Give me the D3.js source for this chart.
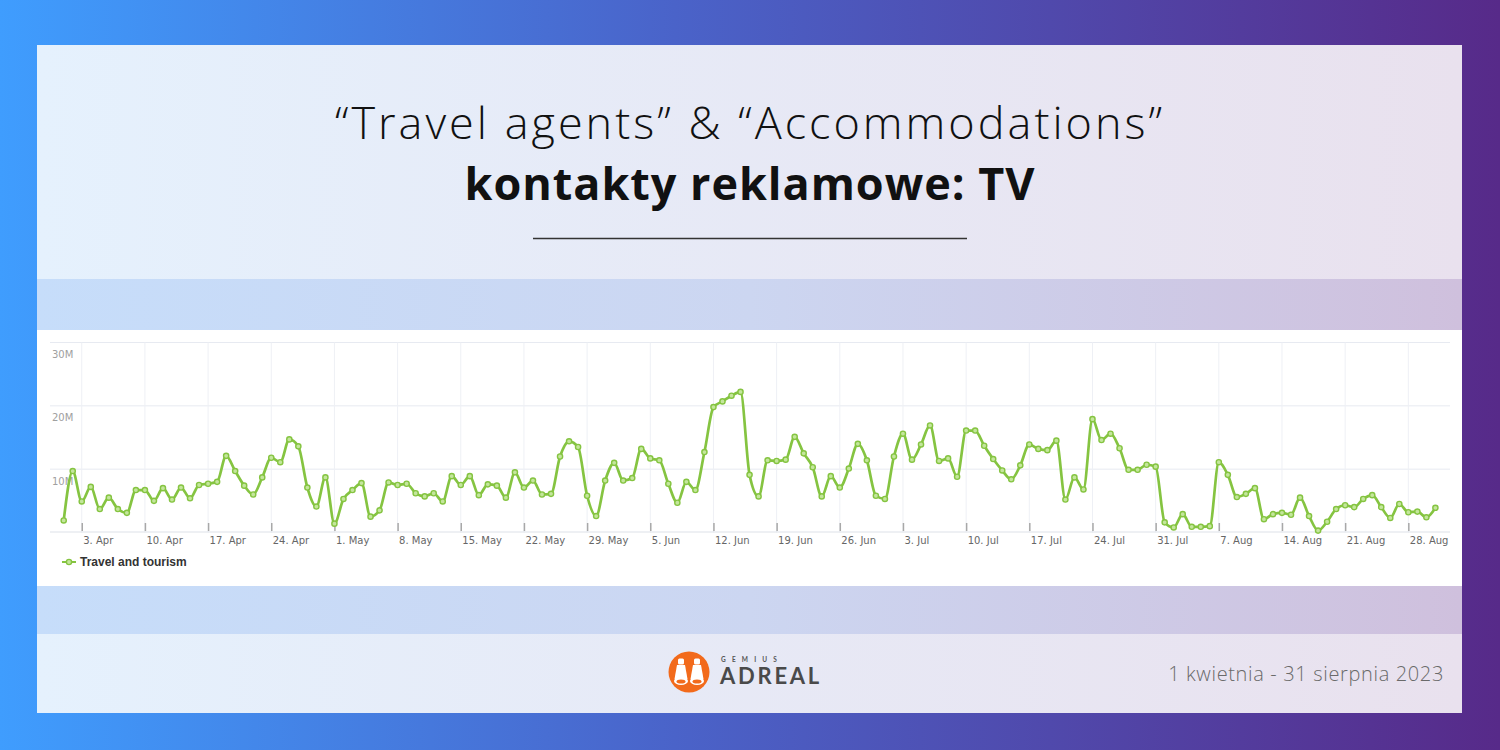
<!DOCTYPE html>
<html><head><meta charset="utf-8">
<script src="https://cdn.jsdelivr.net/npm/d3@7"></script>
<style>html,body{margin:0;padding:0;overflow:hidden;background:#fff}svg{display:block}</style>
</head><body><svg id="c" width="1500" height="750"></svg>
<script>
// ---------- DATA ----------
const startDate = "2023-04-01";
const aprValues = [1.9,9.7,4.9,7.2,3.7,5.5,3.7,3.1,6.7,6.7,5.0,7.0,5.2,7.1,5.4,7.5,7.7,8.0,12.1,9.7,7.4,6.0,8.7,11.8,11.1,14.7,13.6,7.1,4.1,8.7];
const mayValues = [1.4,5.3,6.7,7.8,2.5,3.5,7.9,7.5,7.7,6.2,5.7,6.2,4.9,8.9,7.5,8.9,5.9,7.6,7.4,5.5,9.5,7.1,8.2,6.0,6.1,12.0,14.4,13.5,5.8,2.6,8.2];
const junValues = [11.0,8.2,8.6,13.2,11.7,11.4,7.7,4.7,8.0,6.7,12.7,19.8,20.7,21.6,22.2,9.1,5.7,11.4,11.3,11.5,15.1,12.5,10.3,5.7,8.9,7.1,10.1,14.0,11.4,5.8];
const julValues = [5.3,12.0,15.6,11.5,13.9,16.9,11.3,11.7,8.8,16.1,16.1,13.7,11.6,9.8,8.4,10.6,13.9,13.2,13.0,14.5,5.2,8.7,6.8,17.9,14.6,15.6,13.3,9.9,9.9,10.7,10.4];
const augValues = [1.6,0.8,2.9,0.9,0.9,1.0,11.1,9.1,5.6,6.1,7.0,2.1,2.9,3.1,2.8,5.5,2.6,0.3,1.7,3.7,4.3,4.0,5.3,5.9,4.0,2.3,4.5,3.2,3.3,2.4,3.9];
const tickLabels = ["3. Apr","10. Apr","17. Apr","24. Apr","1. May","8. May","15. May","22. May","29. May","5. Jun","12. Jun","19. Jun","26. Jun","3. Jul","10. Jul","17. Jul","24. Jul","31. Jul","7. Aug","14. Aug","21. Aug","28. Aug"];
const yTickValues = [10,20,30];
const yTickLabels = ["10M","20M","30M"];
const seriesName = "Travel and tourism";
const titleLine1 = "\u201CTravel agents\u201D & \u201CAccommodations\u201D";
const titleLine2 = "kontakty reklamowe: TV";
const periodLabel = "1 kwietnia - 31 sierpnia 2023";

// ---------- BUILD ----------
const values = [].concat(aprValues, mayValues, junValues, julValues, augValues);
const parseDay = d3.utcParse("%Y-%m-%d");
const start = parseDay(startDate);
const data = values.map((v,i)=>({date: d3.utcDay.offset(start, i), value: v}));
const parseTick = d3.utcParse("%d. %b %Y");
const tickDates = tickLabels.map(l=>parseTick(l+" 2023"));

const svg = d3.select("#c");
const defs = svg.append("defs");
function grad(id, stops){
  const g = defs.append("linearGradient").attr("id",id).attr("x1","0").attr("x2","1").attr("y1","0").attr("y2","0");
  stops.forEach(s=>g.append("stop").attr("offset",s[0]).attr("stop-color",s[1]));
}
grad("bg", [[0,"#3f9dfe"],[0.45,"#4a63c9"],[1,"#572a89"]]);
grad("panel", [[0,"#e5f1fd"],[1,"#e9e1ee"]]);
grad("band", [[0,"#c6ddfa"],[0.5,"#ccd6f1"],[1,"#cfc0dd"]]);

svg.append("rect").attr("width",1500).attr("height",750).attr("fill","url(#bg)");
svg.append("rect").attr("x",37).attr("y",45).attr("width",1425).attr("height",668).attr("fill","url(#panel)");
svg.append("rect").attr("x",37).attr("y",279).attr("width",1425).attr("height",51).attr("fill","url(#band)");
svg.append("rect").attr("x",37).attr("y",586).attr("width",1425).attr("height",48).attr("fill","url(#band)");
svg.append("rect").attr("x",37).attr("y",330).attr("width",1425).attr("height",256).attr("fill","#ffffff");

// fit text to a target width with letter-spacing
function fitWidth(sel, target){
  const node = sel.node();
  const len = node.getComputedTextLength();
  const n = sel.text().length;
  const ls = (target - len) / n;
  sel.style("letter-spacing", ls.toFixed(2) + "px");
}

// Title
const t1 = svg.append("text").attr("x",750).attr("y",139).attr("text-anchor","middle")
  .style("font-family","'Open Sans', Lato, sans-serif").style("font-weight",300).style("font-size","45px").attr("fill","#111")
  .text(titleLine1);
fitWidth(t1, 830);
const t2 = svg.append("text").attr("x",750).attr("y",200).attr("text-anchor","middle")
  .style("font-family","'Open Sans', Lato, sans-serif").style("font-weight",700).style("font-size","45px").attr("fill","#111")
  .text(titleLine2);
fitWidth(t2, 571);
svg.append("line").attr("x1",533).attr("x2",967).attr("y1",238.5).attr("y2",238.5)
  .attr("stroke","#333").attr("stroke-width",1.5);

// Scales
const x = d3.scaleUtc().domain([data[0].date, data[data.length-1].date]).range([63.7, 1435.4]);
const y = d3.scaleLinear().domain([0,30]).range([532.5, 342.5]);
const plotLeft = 50, plotRight = 1450;

// Grid
const grid = svg.append("g");
grid.selectAll(".hg").data(yTickValues).join("line")
  .attr("x1",plotLeft).attr("x2",plotRight).attr("y1",d=>y(d)).attr("y2",d=>y(d))
  .attr("stroke","#e7eaf1").attr("stroke-width",1);
grid.selectAll(".vg").data(tickDates).join("line")
  .attr("x1",d=>x(d)).attr("x2",d=>x(d)).attr("y1",y(30)).attr("y2",y(0))
  .attr("stroke","#eef0f5").attr("stroke-width",1);

// Y labels
svg.append("g").selectAll("text").data(yTickValues).join("text")
  .attr("x",52).attr("y",d=>y(d)+15.5)
  .style("font-family","DejaVu Sans").style("font-size","10px").attr("fill","#a0a0a0")
  .text((d,i)=>yTickLabels[i]);

// Baseline
svg.append("line").attr("x1",plotLeft).attr("x2",plotRight).attr("y1",532).attr("y2",532)
  .attr("stroke","#dde1e8").attr("stroke-width",1);

// X axis
const xAxis = d3.axisBottom(x).tickValues(tickDates).tickFormat((d,i)=>tickLabels[i])
  .tickSizeInner(-8).tickSizeOuter(0).tickPadding(6);
const gx = svg.append("g").attr("transform","translate(0,531)").call(xAxis);
gx.select(".domain").remove();
gx.selectAll(".tick line").attr("stroke","#a8a8a8").attr("stroke-width",1.5);
gx.selectAll(".tick text").attr("text-anchor","start").attr("x",1)
  .style("font-family","DejaVu Sans").style("font-size","10px").attr("fill","#666");

// Series
const green = "#85c441";
const line = d3.line().x(d=>x(d.date)).y(d=>y(d.value)).curve(d3.curveMonotoneX);
svg.append("path").datum(data).attr("d",line).attr("fill","none")
  .attr("stroke",green).attr("stroke-width",2.7).attr("stroke-linejoin","round");
svg.append("g").selectAll("circle").data(data).join("circle")
  .attr("cx",d=>x(d.date)).attr("cy",d=>y(d.value)).attr("r",2.6)
  .attr("fill","#c4e69c").attr("stroke",green).attr("stroke-width",1.4);

// Legend
const lg = svg.append("g");
lg.append("line").attr("x1",62).attr("x2",76).attr("y1",562).attr("y2",562).attr("stroke",green).attr("stroke-width",2);
lg.append("circle").attr("cx",69).attr("cy",562).attr("r",2.6).attr("fill","#c4e69c").attr("stroke",green).attr("stroke-width",1.4);
lg.append("text").attr("x",80).attr("y",566.3)
  .style("font-family","Liberation Sans").style("font-weight",700).style("font-size","12px").attr("fill","#333")
  .text(seriesName);

// Logo
const logo = svg.append("g");
logo.append("circle").attr("cx",689).attr("cy",672).attr("r",20.5).attr("fill","#f26a1b");
[-1,1].forEach(m=>{
  const cx = 689 + m*8;
  logo.append("rect").attr("x",cx-3).attr("y",658.5).attr("width",6).attr("height",6).attr("rx",1.5).attr("fill","#fff");
  logo.append("path").attr("d",`M${cx-4},665 L${cx+4},665 L${cx+6.5},679 L${cx-6.5},679 Z`).attr("fill","#fff");
  logo.append("ellipse").attr("cx",cx).attr("cy",681).attr("rx",7).attr("ry",4).attr("fill","#fff");
  logo.append("ellipse").attr("cx",cx).attr("cy",681.5).attr("rx",4.5).attr("ry",2).attr("fill","#f26a1b");
});
logo.append("text").attr("x",721).attr("y",661.8)
  .style("font-family","Lato").style("font-weight",700).style("font-size","6.5px").style("letter-spacing","6.2px").attr("fill","#555")
  .text("GEMIUS");
const adr = logo.append("text").attr("x",720).attr("y",683.5)
  .style("font-family","Lato").style("font-weight",700).style("font-size","22px").attr("fill","#4a4a4a")
  .text("ADREAL");
fitWidth(adr, 102);

// Period label
const pl = svg.append("text").attr("x",1444).attr("y",681).attr("text-anchor","end")
  .style("font-family","'Open Sans', Lato, sans-serif").style("font-weight",300).style("font-size","20px").attr("fill","#6a6a6a")
  .text(periodLabel);
fitWidth(pl, 276);
</script></body></html>
